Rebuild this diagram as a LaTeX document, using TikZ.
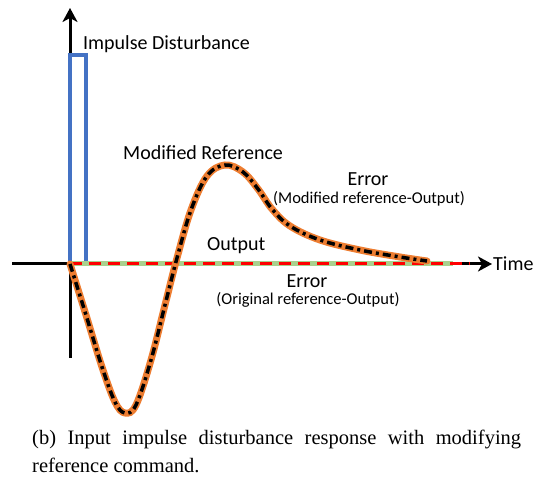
\documentclass[tikz,border=0pt]{standalone}
\usepackage{fontspec}
\setmainfont{Liberation Serif}
\setsansfont{Carlito}
\usetikzlibrary{arrows.meta}
\definecolor{impblue}{RGB}{68,114,196}
\definecolor{refor}{RGB}{237,125,49}
\definecolor{outgreen}{RGB}{169,209,142}
\definecolor{errred}{RGB}{255,0,0}
\begin{document}
\begin{tikzpicture}[x=1pt,y=-1pt,
  axisline/.style={line width=3pt,black},
  tip/.style={-{Stealth[length=14pt,width=15pt,inset=4pt]}},
  lbl/.style={font=\sffamily\fontsize{20}{24}\selectfont,inner sep=0pt},
  sublbl/.style={font=\sffamily\fontsize{16.5}{20}\selectfont,inner sep=0pt},
  refline/.style={line width=7pt,refor,line cap=round},
  refdash/.style={line width=3.5pt,black,dash pattern=on 8pt off 4pt on 3pt off 4pt},
]
\useasboundingbox (0,0) rectangle (539,478);

% axes
\coordinate (o) at (70,264);
\coordinate (xl) at (12,264);
\coordinate (xr) at (492,264);
\coordinate (yb) at (70,358);
\coordinate (yt) at (70,8);
\draw[axisline,tip] (xl) -- (xr);
\draw[axisline,tip] (yb) -- (yt);

% impulse disturbance pulse
\coordinate (p1) at (70,55);
\coordinate (p2) at (86,55);
\coordinate (p3) at (86,264);
\draw[impblue,line width=3.2pt,line join=miter] (o) -- (p1) -- (p2) -- (p3);

% output and original error along the time axis
\coordinate (g2) at (453,264);
\coordinate (r2) at (470,264);
\draw[outgreen,line width=5pt] (o) -- (g2);
\draw[errred,line width=3pt,dash pattern=on 12pt off 7pt] (o) -- (r2);

% modified reference trajectory
\def\refpath{plot[smooth,tension=0.6] coordinates {
  (70,264) (86,315) (102,367) (115,402) (125,413) (136,405)
  (151,360) (165,305) (177,258) (191,210) (207,176) (225,165)
  (243,172) (258,189) (272,209) (290,226) (320,240) (360,250)
  (400,257) (427,261)}}
\draw[refline] \refpath;
\draw[refdash] \refpath;

% labels
\node[lbl,anchor=west] (imp) at (83,44) {Impulse Disturbance};
\node[lbl,anchor=west] (mref) at (123,153) {Modified Reference};
\node[lbl,anchor=west] (out) at (207,246) {Output};
\node[lbl] (err1) at (368,179) {Error};
\node[sublbl] (err1s) at (369,199) {(Modified reference-Output)};
\node[lbl] (err2) at (307,281) {Error};
\node[sublbl] (err2s) at (308,300) {(Original reference-Output)};
\node[lbl,anchor=west] (time) at (493,264) {Time};

% caption
\node[anchor=base west,inner sep=0pt,text width=489pt,align=justify,
      font=\rmfamily\fontsize{20.5}{28}\selectfont] (cap) at (32,445)
  {(b) Input impulse disturbance response with modifying\linebreak
   reference command.};
\end{tikzpicture}
\end{document}
